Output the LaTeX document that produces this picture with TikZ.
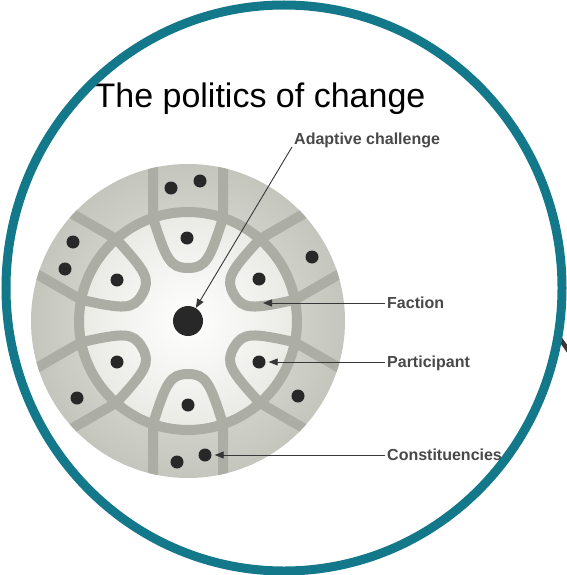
\documentclass[tikz,border=0pt]{standalone}
\usepackage{fontspec}
\setmainfont{Liberation Sans}
\usetikzlibrary{arrows.meta}
\definecolor{ringteal}{RGB}{19,120,138}
\definecolor{bandgray}{RGB}{172,173,164}
\definecolor{discin}{RGB}{234,235,229}
\definecolor{discout}{RGB}{196,197,189}
\definecolor{dotgray}{RGB}{40,40,40}
\definecolor{labelgray}{RGB}{72,72,72}
\definecolor{linegray}{RGB}{55,55,55}
\begin{document}
\begin{tikzpicture}[x=1pt, y=-1pt,
    dot/.style={circle, fill=dotgray, inner sep=0pt, minimum size=13pt},
    band/.style={draw=bandgray, line width=10pt},
    tag/.style={anchor=west, inner sep=2pt, text=labelgray, text height=11.5pt, text depth=0pt,
                font=\bfseries\fontsize{16}{19}\selectfont},
    pointer/.style={draw=linegray, line width=0.9pt, -{Triangle[length=9pt, width=7pt]}}]

    \useasboundingbox (0,0) rectangle (566,575);

    % stray mark at the right edge
    \draw[linegray, line width=4.5pt] (556,333) -- (570,353);

    \coordinate (O) at (188,321);

    % disc
    \shade[inner color=discin, outer color=discout] (O) circle[radius=157pt];
    \shade[inner color=white, outer color=discin] (O) circle[radius=104pt];

    % factions
    \begin{scope}
        \clip (O) circle[radius=157pt];
        \foreach \ang in {90,30,-30,-90,-150,150}
            \draw[band, shift={(O)}, rotate=\ang]
                (165,35) -- (103,35) .. controls (62,22) and (53,18) .. (53,0)
                .. controls (53,-18) and (62,-22) .. (103,-35) -- (165,-35);
    \end{scope}
    \draw[band] (O) circle[radius=109pt];

    % participants and constituencies
    \node[dot, minimum size=30pt] (hub) at (O) {};
    \foreach \name/\x/\y in {p1/187/238, p2/259/279, p3/259/362, p4/188/405, p5/117/362, p6/117/280}
        \node[dot] (\name) at (\x,\y) {};
    \foreach \name/\x/\y in {c1/171/188, c2/200/181, c3/312/257, c4/298/396, c5/205/455,
                             c6/177/462, c7/77/398, c8/65/269, c9/73/242}
        \node[dot] (\name) at (\x,\y) {};

    % labels
    \node[anchor=base, font=\fontsize{34}{40}\selectfont] (title) at (260,107) {The politics of change};
    \node[tag] (adaptive) at (292,139) {Adaptive challenge};
    \node[tag] (faction) at (385,303) {Faction};
    \node[tag] (participant) at (385,362) {Participant};
    \node[tag] (constituencies) at (385,455) {Constituencies};

    \coordinate (fc) at (263,303);
    \draw[pointer] (adaptive.south west) -- (hub);
    \draw[pointer] (faction.west) -- (fc);
    \draw[pointer, shorten >=3pt] (participant.west) -- (p3);
    \draw[pointer, shorten >=3pt] (constituencies.west) -- (c5);

    % frame
    \draw[ringteal, line width=9pt] (284,288) ellipse[x radius=278pt, y radius=283pt];
\end{tikzpicture}
\end{document}
